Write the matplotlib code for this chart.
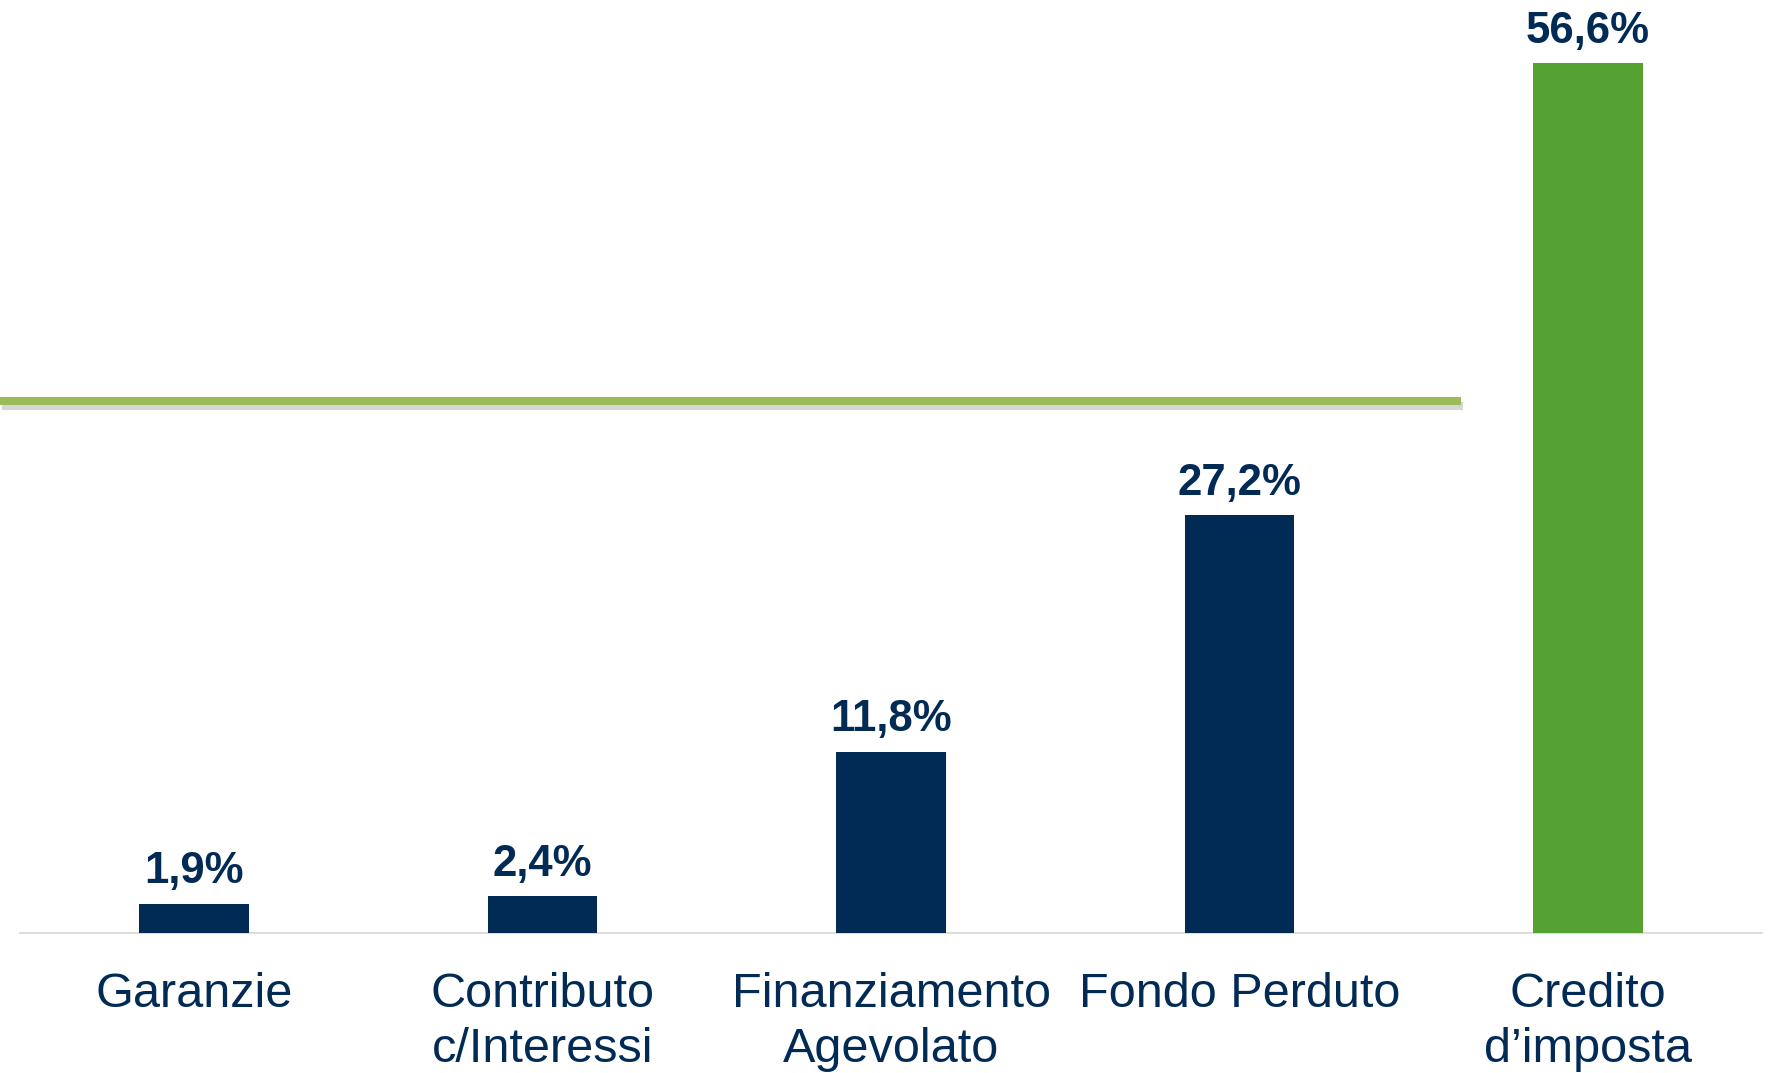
import matplotlib
matplotlib.use("Agg")
import matplotlib.pyplot as plt
import matplotlib.patheffects as pe

categories = ["Garanzie", "Contributo\nc/Interessi", "Finanziamento\nAgevolato", "Fondo Perduto", "Credito\nd\u2019imposta"]
values = [1.9, 2.4, 11.8, 27.2, 56.6]
value_labels = ["1,9%", "2,4%", "11,8%", "27,2%", "56,6%"]
bar_colors = ["#012A55", "#012A55", "#012A55", "#012A55", "#55A233"]
reference_level = 34.6

navy = "#012A55"
plt.rcParams['font.family'] = ['Liberation Sans', 'DejaVu Sans']

W, H = 1769, 1073
fig = plt.figure(figsize=(W / 100, H / 100), dpi=100)
left = 20 / W
right = 1762 / W
bottom = (H - 933) / H
top = 1 - 11 / H
ax = fig.add_axes([left, bottom, right - left, top - bottom])

x = list(range(len(categories)))
ax.bar(x, values, width=0.315, color=bar_colors, zorder=3)
ax.set_xlim(-0.5, 4.5)
ax.set_ylim(0, 60)

for xi, v, lab in zip(x, values, value_labels):
    ax.annotate(lab, (xi, v), xytext=(0, 23), textcoords="offset points",
                ha="center", va="center", fontsize=31.5, fontweight="bold", color=navy)

for s in ["top", "right", "left"]:
    ax.spines[s].set_visible(False)
ax.spines["bottom"].set_color("#D9D9D9")
ax.spines["bottom"].set_linewidth(1.3)
ax.set_yticks([])
ax.set_xticks(x)
ax.set_xticklabels(categories, fontsize=35, color=navy, linespacing=1.3)
ax.tick_params(axis="x", length=0, pad=28)

# green reference line extending to figure left edge
x0 = -0.5 - 20 / 348.6
x1 = -0.5 + (1462 - 20) / 348.6
ax.plot([x0, x1], [reference_level, reference_level], color="#9BBB59", lw=5.8,
        solid_capstyle="butt", clip_on=False, zorder=4,
        path_effects=[pe.SimpleLineShadow(offset=(1.5, -3.5), shadow_color="#8c8c8c", alpha=0.35),
                      pe.Normal()])

fig.savefig("out.png", dpi=100, facecolor="white")
